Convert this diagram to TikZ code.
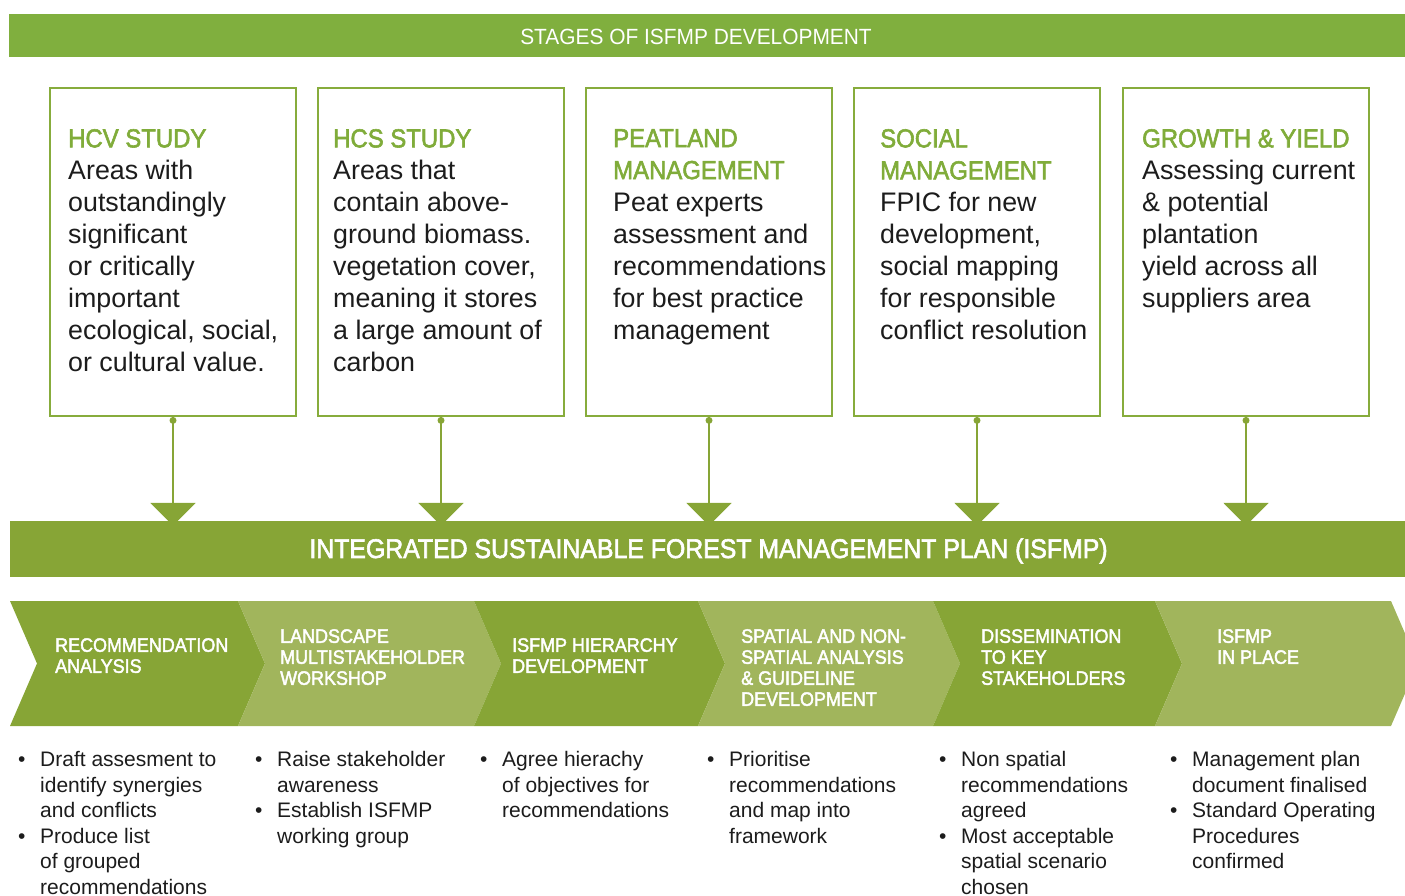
\documentclass[tikz,border=0pt]{standalone}
\usepackage{fontspec}
\setmainfont{Liberation Sans}
\newfontfamily\capfont{Liberation Sans}[FakeBold=2.2,FakeStretch=0.92]
\newfontfamily\lightfont{Liberation Sans}[FakeStretch=0.95]
\usetikzlibrary{arrows.meta}
\definecolor{topgreen}{RGB}{128,175,62}
\definecolor{bargreen}{RGB}{135,165,54}
\definecolor{darkchev}{RGB}{135,165,54}
\definecolor{lightchev}{RGB}{161,181,92}
\definecolor{boxgreen}{RGB}{135,172,60}
\definecolor{titlegreen}{RGB}{128,172,58}
\definecolor{bodytext}{RGB}{28,28,28}
\newcommand\myb{\makebox[22pt][l]{•}}
\newcommand\myi{\hspace*{22pt}}
\begin{document}
\begin{tikzpicture}[x=1pt,y=-1pt,
  stagebox/.style={draw=boxgreen,line width=2.8pt,minimum width=246pt,minimum height=328pt,inner sep=0pt},
  boxtext/.style={anchor=north west,inner sep=0pt,align=left,text=bodytext,font=\fontsize{26.8}{32}\selectfont},
  conn/.style={draw=bargreen,line width=2pt,-{Triangle[width=45pt,length=23pt]},shorten >=-5pt},
  chevtext/.style={anchor=north west,inner sep=0pt,align=left,text=white,font=\capfont\fontsize{19.5}{21}\selectfont},
  bullets/.style={anchor=north west,inner sep=0pt,align=left,text=bodytext,font=\fontsize{21}{25.6}\selectfont}
]
\useasboundingbox (0,0) rectangle (1405,896);
\clip (0,0) rectangle (1405,896);

% top bar
\node[fill=topgreen,minimum width=1396pt,minimum height=43pt,inner sep=0pt] (topbar) at (707,35.5) {};
\node[text=white,inner sep=0pt,font=\lightfont\fontsize{22}{24}\selectfont] (toptext) at (696,37) {STAGES OF ISFMP DEVELOPMENT};

% stage boxes
\node[stagebox] (b1) at (173,252) {};
\node[stagebox] (b2) at (441,252) {};
\node[stagebox] (b3) at (709,252) {};
\node[stagebox] (b4) at (977,252) {};
\node[stagebox] (b5) at (1246,252) {};

\newcommand\tit[1]{{\capfont\fontsize{26}{32}\selectfont\color{titlegreen}#1}}
\node[boxtext] (t1) at (68,129) {\tit{HCV STUDY}\\Areas with\\outstandingly\\significant\\or critically\\important\\ecological, social,\\or cultural value.};
\node[boxtext] (t2) at (333,129) {\tit{HCS STUDY}\\Areas that\\contain above-\\ground biomass.\\vegetation cover,\\meaning it stores\\a large amount of\\carbon};
\node[boxtext] (t3) at (613,129) {\tit{PEATLAND}\\\tit{MANAGEMENT}\\Peat experts\\assessment and\\recommendations\\for best practice\\management};
\node[boxtext] (t4) at (880,129) {\tit{SOCIAL}\\\tit{MANAGEMENT}\\FPIC for new\\development,\\social mapping\\for responsible\\conflict resolution};
\node[boxtext] (t5) at (1142,129) {\tit{GROWTH \& YIELD}\\Assessing current\\\& potential\\plantation\\yield across all\\suppliers area};

% ISFMP bar
\node[fill=bargreen,minimum width=1395pt,minimum height=56pt,inner sep=0pt] (isfmp) at (707.5,549) {};
\node[text=white,inner sep=0pt,font=\capfont\fontsize{27}{30}\selectfont] (isfmptext) at (708.5,551) {INTEGRATED SUSTAINABLE FOREST MANAGEMENT PLAN (ISFMP)};

% connectors
\foreach \b in {b1,b2,b3,b4,b5}{
  \draw[conn] (\b.south) -- (\b.south |- isfmp.north);
  \fill[bargreen] (\b.south) ++(0,3) circle (3.5);
}

% chevrons
\fill[darkchev] (10,601) -- (238,601) -- (265,663.5) -- (238,726) -- (10,726) -- (37,663.5) -- cycle;
\fill[lightchev] (238,601) -- (474,601) -- (501,663.5) -- (474,726) -- (238,726) -- (265,663.5) -- cycle;
\fill[darkchev] (474,601) -- (698,601) -- (725,663.5) -- (698,726) -- (474,726) -- (501,663.5) -- cycle;
\fill[lightchev] (698,601) -- (933,601) -- (960,663.5) -- (933,726) -- (698,726) -- (725,663.5) -- cycle;
\fill[darkchev] (933,601) -- (1155,601) -- (1182,663.5) -- (1155,726) -- (933,726) -- (960,663.5) -- cycle;
\fill[lightchev] (1155,601) -- (1391,601) -- (1418,663.5) -- (1391,726) -- (1155,726) -- (1182,663.5) -- cycle;

\node[chevtext] (c1) at (55,638) {RECOMMENDATION\\ANALYSIS};
\node[chevtext] (c2) at (280,629) {LANDSCAPE\\MULTISTAKEHOLDER\\WORKSHOP};
\node[chevtext] (c3) at (512,638) {ISFMP HIERARCHY\\DEVELOPMENT};
\node[chevtext] (c4) at (741,629) {SPATIAL AND NON-\\SPATIAL ANALYSIS\\\& GUIDELINE\\DEVELOPMENT};
\node[chevtext] (c5) at (981,629) {DISSEMINATION\\TO KEY\\STAKEHOLDERS};
\node[chevtext] (c6) at (1217,629) {ISFMP\\IN PLACE};

% bullet lists
\node[bullets] (l1) at (18,751) {\myb Draft assesment to\\\myi identify synergies\\\myi and conflicts\\\myb Produce list\\\myi of grouped\\\myi recommendations};
\node[bullets] (l2) at (255,751) {\myb Raise stakeholder\\\myi awareness\\\myb Establish ISFMP\\\myi working group};
\node[bullets] (l3) at (480,751) {\myb Agree hierachy\\\myi of objectives for\\\myi recommendations};
\node[bullets] (l4) at (707,751) {\myb Prioritise\\\myi recommendations\\\myi and map into\\\myi framework};
\node[bullets] (l5) at (939,751) {\myb Non spatial\\\myi recommendations\\\myi agreed\\\myb Most acceptable\\\myi spatial scenario\\\myi chosen};
\node[bullets] (l6) at (1170,751) {\myb Management plan\\\myi document finalised\\\myb Standard Operating\\\myi Procedures\\\myi confirmed};
\end{tikzpicture}
\end{document}
